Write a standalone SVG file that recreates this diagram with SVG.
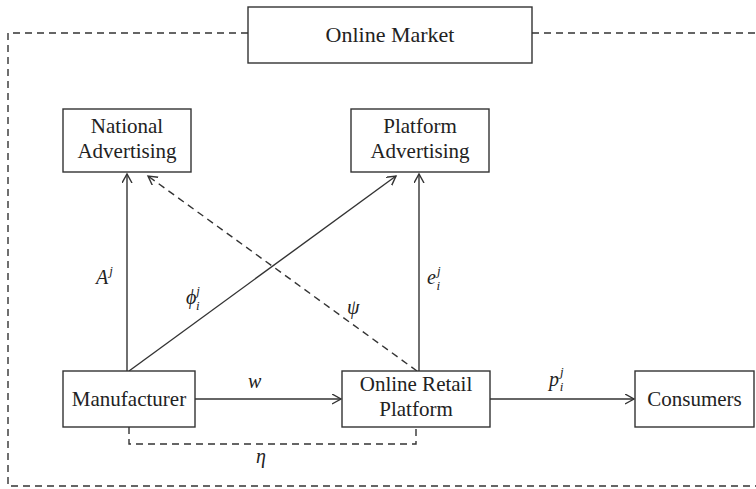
<svg xmlns="http://www.w3.org/2000/svg" width="756" height="489" viewBox="0 0 756 489">
<defs>
<style>
.box{fill:#fff;stroke:#333;stroke-width:1.4}
.t{font-family:"Liberation Serif","DejaVu Serif",serif;font-size:21px;fill:#222;text-anchor:middle}
.m{font-family:"Liberation Serif","DejaVu Serif",serif;font-size:20px;font-style:italic;fill:#222}
.s{font-size:13px}
.ln{fill:none;stroke:#333;stroke-width:1.4}
.d{stroke-dasharray:7,5}
</style>
<marker id="ah" markerWidth="12" markerHeight="12" refX="9" refY="5" orient="auto" markerUnits="userSpaceOnUse">
<path d="M0,0 L9,5 L0,10" fill="none" stroke="#333" stroke-width="1.4"/>
</marker>
</defs>
<rect width="756" height="489" fill="#fff"/>
<g id="frame">
<path class="ln d" d="M248,33 H8 V486 H756"/>
<path class="ln d" d="M532,33 H756"/>
</g>
<g id="connectors">
<line class="ln" x1="127" y1="371" x2="127" y2="174" marker-end="url(#ah)"/>
<line class="ln" x1="129" y1="371" x2="396" y2="176" marker-end="url(#ah)"/>
<line class="ln d" x1="417" y1="371" x2="148" y2="176" marker-end="url(#ah)"/>
<line class="ln" x1="419" y1="371" x2="419" y2="174" marker-end="url(#ah)"/>
<line class="ln" x1="195" y1="399" x2="341" y2="399" marker-end="url(#ah)"/>
<line class="ln" x1="490" y1="399" x2="634" y2="399" marker-end="url(#ah)"/>
<path class="ln d" d="M129,427 V444 H416 V427"/>
<text class="m" x="96" y="284">A<tspan class="s" dx="1" dy="-9">j</tspan></text>
<text class="m" x="186" y="304">ϕ<tspan class="s" dx="0" dy="-9">j</tspan><tspan class="s" dx="-4" dy="15">i</tspan></text>
<text class="m" x="347" y="314">ψ</text>
<text class="m" x="427" y="284">e<tspan class="s" dx="1" dy="-9">j</tspan><tspan class="s" dx="-4" dy="15">i</tspan></text>
<text class="m" x="248" y="388">w</text>
<text class="m" x="549" y="386">p<tspan class="s" dx="1" dy="-10">j</tspan><tspan class="s" dx="-4" dy="15">i</tspan></text>
<text class="m" x="256" y="463">η</text>
</g>
<g id="online-market">
<rect class="box" x="248" y="7" width="284" height="56"/>
<text class="t" x="390" y="42" style="font-size:22px">Online Market</text>
</g>
<g id="national-advertising">
<rect class="box" x="63" y="109" width="128" height="63"/>
<text class="t" x="127" y="133">National</text>
<text class="t" x="127" y="158">Advertising</text>
</g>
<g id="platform-advertising">
<rect class="box" x="351" y="109" width="138" height="63"/>
<text class="t" x="420" y="133">Platform</text>
<text class="t" x="420" y="158">Advertising</text>
</g>
<g id="manufacturer">
<rect class="box" x="63" y="371" width="132" height="56"/>
<text class="t" x="129" y="406">Manufacturer</text>
</g>
<g id="online-retail-platform">
<rect class="box" x="342" y="371" width="148" height="56"/>
<text class="t" x="416" y="391">Online Retail</text>
<text class="t" x="416" y="416">Platform</text>
</g>
<g id="consumers">
<rect class="box" x="635" y="371" width="119" height="56"/>
<text class="t" x="694.5" y="406">Consumers</text>
</g>
</svg>
